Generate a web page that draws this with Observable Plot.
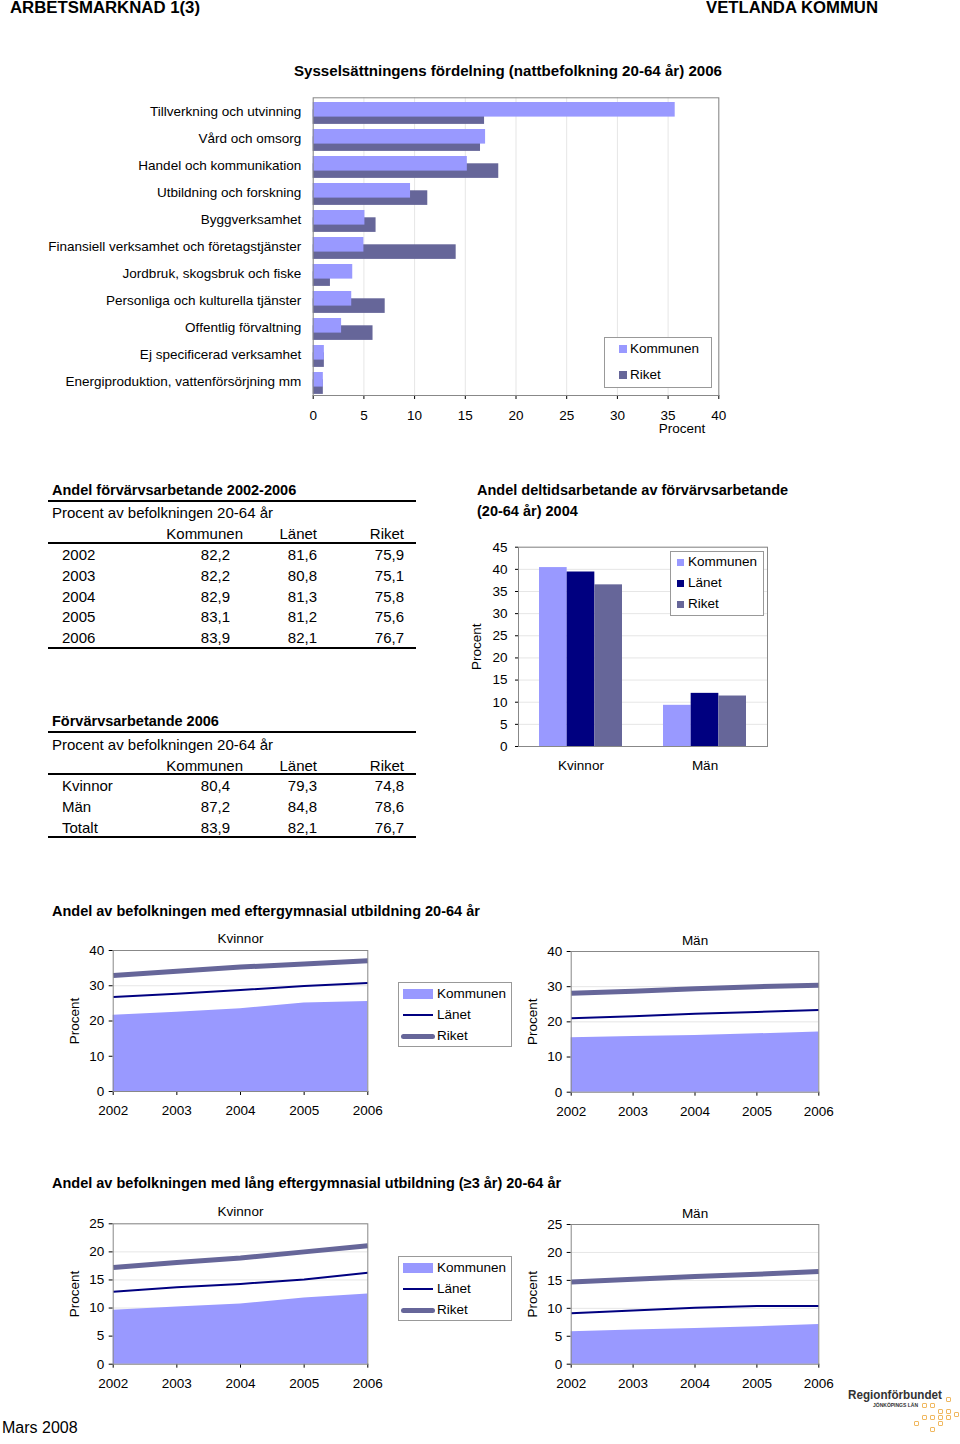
<!DOCTYPE html>
<html><head><meta charset="utf-8">
<script src="https://cdn.jsdelivr.net/npm/d3@7"></script>
<script src="https://cdn.jsdelivr.net/npm/@observablehq/plot@0.6"></script>
<style>
body{margin:0;background:#fff;color:#000}
#page{position:relative;width:960px;height:1444px;overflow:hidden;background:#fff}
.abs{position:absolute;white-space:nowrap}
svg{position:absolute}
</style></head><body><div id="page"></div>
<script>
// ---------------- DATA ----------------
const sectors = ["Tillverkning och utvinning","Vård och omsorg","Handel och kommunikation","Utbildning och forskning","Byggverksamhet","Finansiell verksamhet och företagstjänster","Jordbruk, skogsbruk och fiske","Personliga och kulturella tjänster","Offentlig förvaltning","Ej specificerad verksamhet","Energiproduktion, vattenförsörjning mm"];
const sectorKommunen = [35.7, 17.0, 15.2, 9.6, 5.1, 5.0, 3.9, 3.8, 2.8, 1.1, 1.0];
const sectorRiket = [16.9, 16.5, 18.3, 11.3, 6.2, 14.1, 1.7, 7.1, 5.9, 1.1, 1.0];
const sectorTicks = [0, 5, 10, 15, 20, 25, 30, 35, 40];

const fvYears = ["2002", "2003", "2004", "2005", "2006"];
const fvKommunen = [82.2, 82.2, 82.9, 83.1, 83.9];
const fvLanet = [81.6, 80.8, 81.3, 81.2, 82.1];
const fvRiket = [75.9, 75.1, 75.8, 75.6, 76.7];

const sexRows = ["Kvinnor", "Män", "Totalt"];
const sexKommunen = [80.4, 87.2, 83.9];
const sexLanet = [79.3, 84.8, 82.1];
const sexRiket = [74.8, 78.6, 76.7];

const ptGroups = ["Kvinnor", "Män"];
const ptKommunen = [40.4, 9.3];
const ptLanet = [39.4, 12.0];
const ptRiket = [36.5, 11.4];
const ptTicks = [0, 5, 10, 15, 20, 25, 30, 35, 40, 45];

const eduYears = [2002, 2003, 2004, 2005, 2006];
const eftKvinnorKommunen = [21.6, 22.5, 23.5, 25.1, 25.5];
const eftKvinnorLanet = [26.8, 27.7, 28.8, 29.9, 30.8];
const eftKvinnorRiket = [32.9, 34.1, 35.3, 36.2, 37.1];
const eftManKommunen = [15.5, 15.8, 16.1, 16.6, 17.1];
const eftManLanet = [21.0, 21.6, 22.3, 22.8, 23.4];
const eftManRiket = [28.1, 28.7, 29.4, 30.0, 30.4];
const eftTicks = [0, 10, 20, 30, 40];
const langKvinnorKommunen = [9.6, 10.2, 10.7, 11.8, 12.5];
const langKvinnorLanet = [12.9, 13.7, 14.3, 15.1, 16.3];
const langKvinnorRiket = [17.2, 18.1, 18.9, 20.0, 21.1];
const langManKommunen = [5.8, 6.1, 6.4, 6.7, 7.1];
const langManLanet = [9.1, 9.6, 10.1, 10.4, 10.4];
const langManRiket = [14.7, 15.2, 15.7, 16.1, 16.6];
const langTicks = [0, 5, 10, 15, 20, 25];

// ---------------- STYLE ----------------
const FONT = '"Liberation Sans", Arial, Helvetica, sans-serif';
const cKommunen = "#9999ff", cLanet = "#000080", cRiket = "#666699";
const frameColor = "#888888";
const page = document.getElementById("page");
const fmt = v => v.toFixed(1).replace(".", ",");

function txt(s, x, y, o = {}) {
  const size = o.size || 13.5, weight = o.weight || "normal", anchor = o.anchor || "start";
  const d = document.createElement("div");
  d.className = "abs"; d.textContent = s;
  d.style.font = `${weight} ${size}px ${o.family || FONT}`;
  d.style.lineHeight = size + "px";
  d.style.top = (y - size / 2) + "px";
  if (o.color) d.style.color = o.color;
  page.appendChild(d);
  const w = d.getBoundingClientRect().width;
  const scale = o.fit ? o.fit / w : 1;
  const ww = w * scale;
  d.style.left = (anchor === "start" ? x : anchor === "end" ? x - ww : x - ww / 2) + "px";
  if (o.fit) { d.style.transformOrigin = "0 0"; d.style.transform = `scaleX(${scale})`; }
  return d;
}
function hline(x1, x2, y, t = 2, color = "#000") {
  const d = document.createElement("div");
  d.className = "abs";
  Object.assign(d.style, {left: x1 + "px", top: (y - t / 2) + "px", width: (x2 - x1) + "px", height: t + "px", background: color});
  page.appendChild(d);
}
function box(x1, y1, x2, y2) {
  const d = document.createElement("div");
  d.className = "abs";
  Object.assign(d.style, {left: x1 + "px", top: y1 + "px", width: (x2 - x1) + "px", height: (y2 - y1) + "px", border: "1px solid #999", boxSizing: "border-box", background: "#fff"});
  page.appendChild(d);
}
function swatch(x, y, w, h, color, radius = 0, border = null) {
  const d = document.createElement("div");
  d.className = "abs";
  Object.assign(d.style, {left: x + "px", top: (y - h / 2) + "px", width: w + "px", height: h + "px", background: color, borderRadius: radius + "px", boxSizing: "border-box"});
  if (border) d.style.border = border;
  page.appendChild(d);
}
function place(svg, left, top) {
  svg.style.left = left + "px"; svg.style.top = top + "px";
  page.appendChild(svg);
}
const baseStyle = {fontFamily: FONT, fontSize: "13.5px", color: "#000", background: "transparent", overflow: "visible"};

// ---------------- HEADER ----------------
txt("ARBETSMARKNAD 1(3)", 10, 8, {size: 16, weight: "bold", fit: 190});
txt("VETLANDA KOMMUN", 878, 8, {size: 16, weight: "bold", anchor: "end", fit: 172});
txt("Sysselsättningens fördelning (nattbefolkning 20-64 år) 2006", 294, 70, {size: 15, weight: "bold", fit: 428});

// ---------------- SECTOR BAR CHART ----------------
const sectorData = sectors.map((s, i) => ({sector: s, kommunen: sectorKommunen[i], riket: sectorRiket[i]}));
const sectorPlot = Plot.plot({
  width: 740, height: 350,
  marginLeft: 312.7, marginRight: 21.7, marginTop: 7.3, marginBottom: 45,
  style: baseStyle,
  x: {domain: [0, 40], ticks: sectorTicks, grid: true, tickSize: 4, tickPadding: 11, label: null},
  y: {domain: sectors, padding: 0, tickSize: 0, tickPadding: 12, label: null},
  marks: [
    Plot.barX(sectorData, {y: "sector", x: "riket", fill: cRiket, insetTop: 11.3, insetBottom: 1.1}),
    Plot.barX(sectorData, {y: "sector", x: "kommunen", fill: cKommunen, insetTop: 4, insetBottom: 8.4}),
    Plot.frame({stroke: frameColor})
  ]
});
place(sectorPlot, 0, 90);
txt("Procent", 682, 429, {anchor: "middle"});
box(604, 337, 712, 388);
swatch(619, 349, 8, 8, cKommunen); txt("Kommunen", 630, 349);
swatch(619, 375, 8, 8, cRiket); txt("Riket", 630, 375);

// ---------------- TABLES ----------------
function table(title, yTitle, rowLabels, kom, lan, rik, yLines, yRows) {
  txt(title, 52, yTitle, {size: 14.5, weight: "bold"});
  hline(48, 416, yLines[0]);
  txt("Procent av befolkningen 20-64 år", 52, yLines[0] + 12, {size: 15});
  txt("Kommunen", 243, yLines[0] + 33, {size: 15, anchor: "end"});
  txt("Länet", 317, yLines[0] + 33, {size: 15, anchor: "end"});
  txt("Riket", 404, yLines[0] + 33, {size: 15, anchor: "end"});
  hline(48, 416, yLines[1]);
  rowLabels.forEach((r, i) => {
    const y = yRows[0] + i * yRows[1];
    txt(r, 62, y, {size: 15});
    txt(fmt(kom[i]), 230, y, {size: 15, anchor: "end"});
    txt(fmt(lan[i]), 317, y, {size: 15, anchor: "end"});
    txt(fmt(rik[i]), 404, y, {size: 15, anchor: "end"});
  });
  hline(48, 416, yLines[2]);
}
table("Andel förvärvsarbetande 2002-2006", 490, fvYears, fvKommunen, fvLanet, fvRiket, [500.5, 543, 648], [554.5, 20.8]);
table("Förvärvsarbetande 2006", 721, sexRows, sexKommunen, sexLanet, sexRiket, [732, 773.5, 836.5], [785.5, 20.8]);

// ---------------- PART-TIME BAR CHART ----------------
txt("Andel deltidsarbetande av förvärvsarbetande", 477, 490, {size: 14.5, weight: "bold"});
txt("(20-64 år) 2004", 477, 511, {size: 14.5, weight: "bold"});
const ptData = ptGroups.map((g, i) => ({group: g, kommunen: ptKommunen[i], lanet: ptLanet[i], riket: ptRiket[i]}));
const bw = 83, third = bw / 3;
const ptPlot = Plot.plot({
  width: 320, height: 260,
  marginLeft: 58, marginRight: 13, marginTop: 16.7, marginBottom: 44,
  style: baseStyle,
  x: {domain: ptGroups, paddingInner: 1 / 3, paddingOuter: 1 / 6, tickSize: 0, tickPadding: 14, label: null},
  y: {domain: [0, 45], ticks: ptTicks, grid: true, tickSize: 3, tickPadding: 8, label: "Procent", labelAnchor: "center", labelOffset: 46.7, labelArrow: "none"},
  marks: [
    Plot.barY(ptData, {x: "group", y: "kommunen", fill: cKommunen, insetLeft: 0, insetRight: 2 * third}),
    Plot.barY(ptData, {x: "group", y: "lanet", fill: cLanet, insetLeft: third, insetRight: third}),
    Plot.barY(ptData, {x: "group", y: "riket", fill: cRiket, insetLeft: 2 * third, insetRight: 0}),
    Plot.frame({stroke: frameColor})
  ]
});
place(ptPlot, 460, 530);
box(670, 551, 764, 616);
swatch(677, 562, 7, 7, cKommunen); txt("Kommunen", 688, 562);
swatch(677, 583, 7, 7, cLanet); txt("Länet", 688, 583);
swatch(677, 604, 7, 7, cRiket); txt("Riket", 688, 604);

// ---------------- EDUCATION CHARTS ----------------
function eduChart(title, kom, lan, rik, yTicks, b) {
  const data = eduYears.map((yr, i) => ({year: yr, kommunen: kom[i], lanet: lan[i], riket: rik[i]}));
  const svg = Plot.plot({
    width: b.w, height: b.h,
    marginLeft: b.ml, marginRight: b.mr, marginTop: b.mt, marginBottom: b.mb,
    style: baseStyle,
    x: {domain: [eduYears[0], eduYears[eduYears.length - 1]], ticks: eduYears, tickFormat: d => String(d), tickSize: 4, tickPadding: 10, label: null},
    y: {domain: [0, yTicks[yTicks.length - 1]], ticks: yTicks, grid: true, tickSize: 4, tickPadding: 5, label: "Procent", labelAnchor: "center", labelOffset: b.lo, labelArrow: "none"},
    marks: [
      Plot.areaY(data, {x: "year", y: "kommunen", fill: cKommunen}),
      Plot.lineY(data, {x: "year", y: "lanet", stroke: cLanet, strokeWidth: 2, strokeLinecap: "butt"}),
      Plot.lineY(data, {x: "year", y: "riket", stroke: cRiket, strokeWidth: 5, strokeLinecap: "butt"}),
      Plot.frame({stroke: frameColor}),
      Plot.text([title], {frameAnchor: "top", dy: -b.td})
    ]
  });
  place(svg, b.left, b.top);
}
function eduLegend(y0) {
  box(398, y0, 512, y0 + 65);
  swatch(403, y0 + 12, 30, 10, cKommunen); txt("Kommunen", 437, y0 + 12);
  swatch(403, y0 + 33, 30, 2, cLanet); txt("Länet", 437, y0 + 33);
  swatch(401, y0 + 54, 34, 5, cRiket, 3); txt("Riket", 437, y0 + 54);
}

txt("Andel av befolkningen med eftergymnasial utbildning 20-64 år", 52, 911, {size: 14.5, weight: "bold"});
eduChart("Kvinnor", eftKvinnorKommunen, eftKvinnorLanet, eftKvinnorRiket, eftTicks,
  {left: 50, top: 920, w: 340, h: 210, ml: 62.7, mr: 22.7, mt: 30, mb: 39, lo: 43.4, td: 17});
eduChart("Män", eftManKommunen, eftManLanet, eftManRiket, eftTicks,
  {left: 505, top: 920, w: 340, h: 210, ml: 65.7, mr: 26.7, mt: 31, mb: 38.3, lo: 43.4, td: 16});
eduLegend(982);

txt("Andel av befolkningen med lång eftergymnasial utbildning (≥3 år) 20-64 år", 52, 1183, {size: 14.5, weight: "bold"});
eduChart("Kvinnor", langKvinnorKommunen, langKvinnorLanet, langKvinnorRiket, langTicks,
  {left: 50, top: 1195, w: 340, h: 210, ml: 62.7, mr: 22.7, mt: 28.3, mb: 41.3, lo: 43.4, td: 17});
eduChart("Män", langManKommunen, langManLanet, langManRiket, langTicks,
  {left: 505, top: 1195, w: 340, h: 210, ml: 65.7, mr: 26.7, mt: 29, mb: 41.3, lo: 43.4, td: 16});
eduLegend(1256);

// ---------------- FOOTER ----------------
txt("Mars 2008", 2, 1428, {size: 16});
txt("Regionförbundet", 848, 1395, {size: 13.5, weight: "bold", color: "#333", fit: 94});
txt("JÖNKÖPINGS LÄN", 873, 1405, {size: 5, weight: "bold", color: "#333"});
[[922,1405],[930,1405],[946,1399],[938,1411],[946,1411],[922,1417],[930,1417],[938,1417],[946,1417],[954,1414],[914,1423],[938,1423],[930,1429]]
  .forEach(([x, y]) => swatch(x, y, 5, 5, "#fff", 1, "1.5px solid #f0b860"));
</script></body></html>
